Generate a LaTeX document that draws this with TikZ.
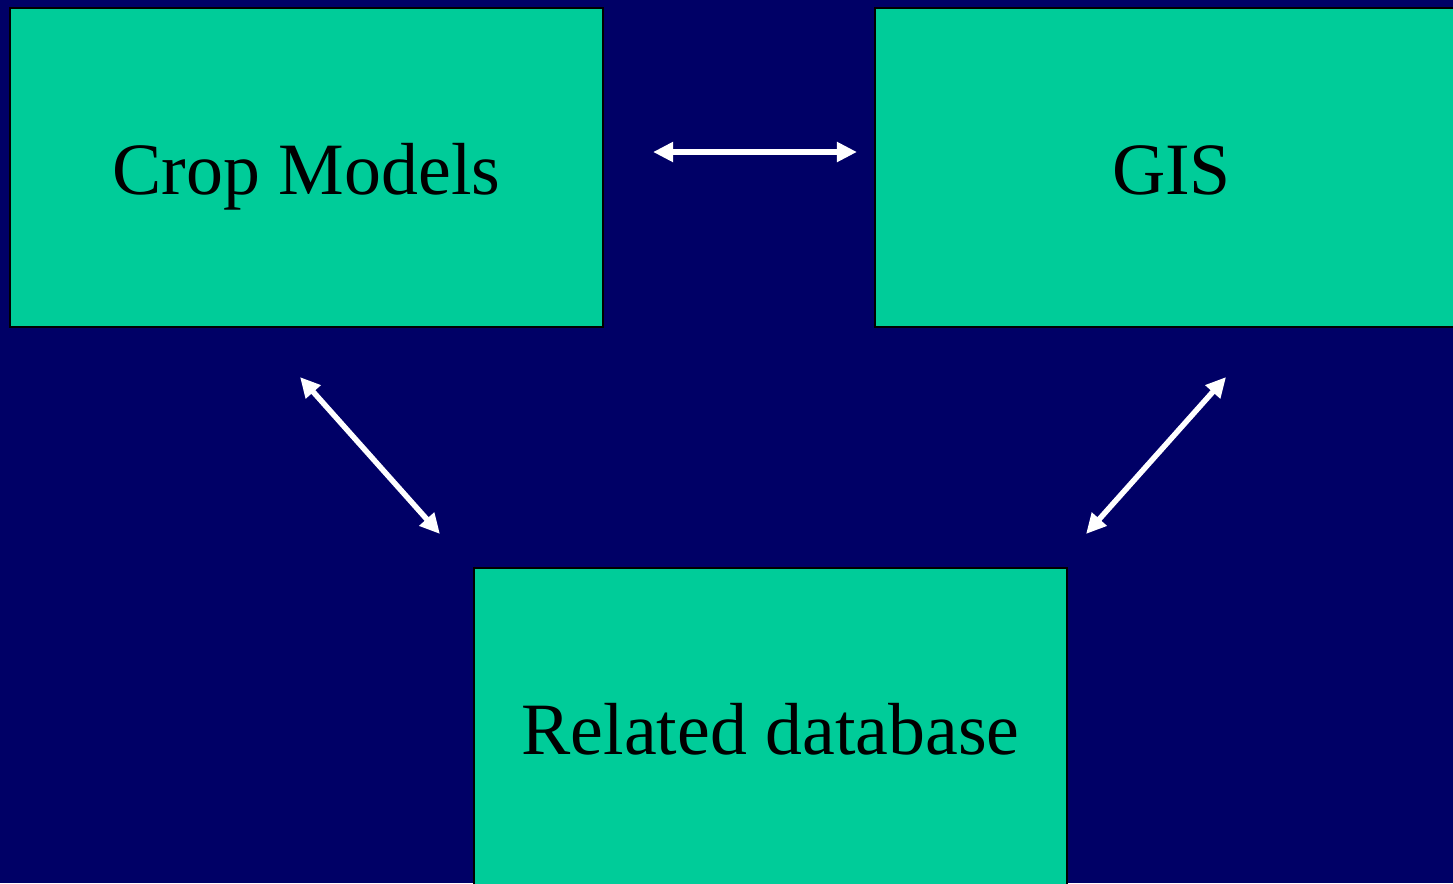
\documentclass[tikz,border=0pt]{standalone}
\usepackage{fontspec}
\setmainfont{Liberation Serif}
\usepackage{tikz}
\usetikzlibrary{arrows.meta,positioning}
\definecolor{cBg}{HTML}{000066}
\definecolor{cBox}{HTML}{00CC99}
\tikzset{
  mbox/.style={draw=black,fill=cBox,line width=0.6pt,minimum width=5.93cm,minimum height=3.19cm,align=center,font=\fontsize{21}{25}\selectfont,text=black,inner sep=0pt,text height=0.53cm,text depth=0pt},
  darr/.style={{Triangle[length=0.2cm,width=0.19cm]}-{Triangle[length=0.2cm,width=0.19cm]},line width=0.055cm,color=white},
}
\begin{document}
\begin{tikzpicture}[x=1cm,y=1cm]
        \fill[cBg] (0,0) rectangle (14.53,-8.83);
        \useasboundingbox (0,0) rectangle (14.53,-8.83);
        \node[mbox] (crop) at (3.065,-1.675) {Crop Models};
        \node[mbox] (gis) at (11.715,-1.675) {GIS};
        \node[mbox] (db) at (7.705,-7.275) {Related database};
        \draw[darr] ([shift={(0.49,0.155)}]crop.east) -- ([shift={(-0.17,0.155)}]gis.west);
        \draw[darr] ([shift={(-0.065,-0.49)}]crop.south) -- ([shift={(-0.33,0.33)}]db.north west);
        \draw[darr] ([shift={(0.545,-0.49)}]gis.south) -- ([shift={(0.18,0.33)}]db.north east);
      \end{tikzpicture}
\end{document}
